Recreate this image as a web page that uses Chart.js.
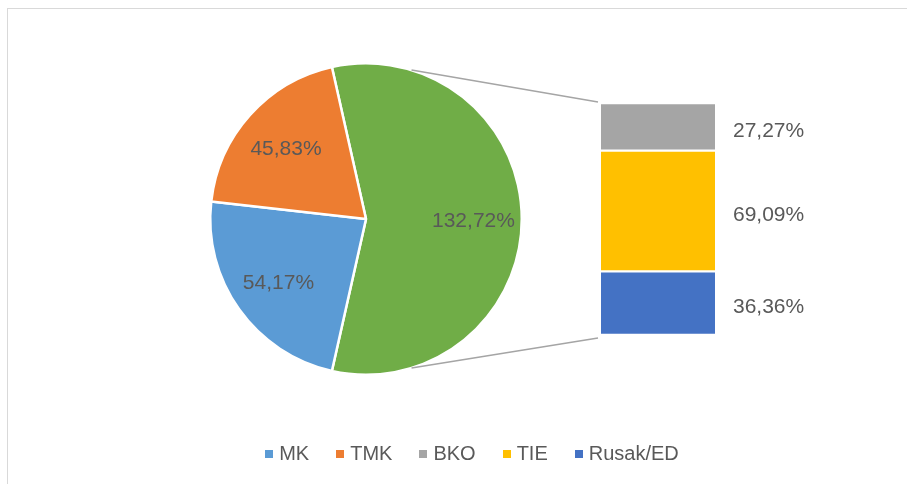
<!DOCTYPE html>
<html>
<head>
<meta charset="utf-8">
<script src="https://cdn.jsdelivr.net/npm/chart.js@4.4.1/dist/chart.umd.min.js"></script>
<style>
  body { margin: 0; background: #fff; }
  #wrap { position: relative; width: 907px; height: 484px; overflow: hidden; }
  #frame { position: absolute; left: 7px; top: 8px; width: 905px; height: 480px; border: 1px solid #d9d9d9; box-sizing: border-box; }
  canvas { position: absolute; left: 0; top: 0; }
  #legend { position: absolute; left: 0; top: 442px; width: 944px; display: flex; justify-content: center; gap: 27px;
            font: 20px "Liberation Sans", Arial, sans-serif; color: #595959; }
  #legend span.item { display: flex; align-items: center; }
  #legend i { display: inline-block; width: 8px; height: 8px; margin-right: 6px; }
</style>
</head>
<body>
<div id="wrap">
  <div id="frame"></div>
  <canvas id="pie" width="907" height="484"></canvas>
  <canvas id="bar" width="907" height="484"></canvas>
  <div id="legend"></div>
</div>
<script>
// pie slices (the last one is the sum of the bar)
const pieNames = ["MK", "TMK"];
const pieValues = [54.17, 45.83];
const pieColors = ["#5b9bd5", "#ed7d31"];

// bar of pie, top to bottom
const barNames = ["BKO", "TIE", "Rusak/ED"];
const barValues = [27.27, 69.09, 36.36];
const barColors = ["#a5a5a5", "#ffc000", "#4472c4"];

const otherColor = "#70ad47";
const otherTotal = barValues.reduce((a, b) => a + b, 0);
const total = otherTotal + pieValues.reduce((a, b) => a + b, 0);

const fmt = v => v.toFixed(2).replace(".", ",") + "%";
const labelFont = '21px "Liberation Sans", Arial, sans-serif';

// legend
const legend = document.getElementById("legend");
pieNames.concat(barNames).forEach((n, i) => {
  const c = pieColors.concat(barColors)[i];
  const s = document.createElement("span");
  s.className = "item";
  s.innerHTML = `<i style="background:${c}"></i>${n}`;
  legend.appendChild(s);
});

// labels inside the pie
const pieLabels = {
  id: "pieLabels",
  afterDatasetsDraw(chart) {
    const ctx = chart.ctx;
    const values = chart.data.datasets[0].data;
    ctx.save();
    ctx.font = labelFont;
    ctx.fillStyle = "#595959";
    ctx.textAlign = "center";
    ctx.textBaseline = "middle";
    chart.getDatasetMeta(0).data.forEach((arc, i) => {
      const p = arc.getProps(["x", "y", "startAngle", "endAngle", "outerRadius"]);
      const mid = (p.startAngle + p.endAngle) / 2;
      const r = p.outerRadius * 0.69;
      ctx.fillText(fmt(values[i]), p.x + Math.cos(mid) * r, p.y + Math.sin(mid) * r + 2);
    });
    ctx.restore();
  }
};

// green slice first, centred on the right side
const pieChart = new Chart(document.getElementById("pie"), {
  type: "pie",
  data: {
    labels: ["Other"].concat(pieNames),
    datasets: [{
      data: [otherTotal].concat(pieValues),
      backgroundColor: [otherColor].concat(pieColors),
      borderColor: "#fff",
      borderWidth: 2.5,
      hoverOffset: 0
    }]
  },
  options: {
    responsive: false,
    animation: false,
    events: [],
    rotation: 90 - (otherTotal / total) * 180,
    layout: { padding: { left: 209, right: 384, top: 62, bottom: 108 } },
    plugins: { legend: { display: false }, tooltip: { enabled: false } }
  },
  plugins: [pieLabels]
});

// labels right of the bar + connector lines to the pie
const barExtras = {
  id: "barExtras",
  afterDatasetsDraw(chart) {
    const ctx = chart.ctx;
    ctx.save();
    ctx.font = labelFont;
    ctx.fillStyle = "#595959";
    ctx.textAlign = "left";
    ctx.textBaseline = "middle";
    const right = chart.chartArea.right;
    chart.data.datasets.forEach((ds, di) => {
      const bar = chart.getDatasetMeta(di).data[0];
      ctx.fillText(fmt(ds.data[0]), right + 18, (bar.y + bar.base) / 2 + 4);
    });

    const topBar = chart.getDatasetMeta(chart.data.datasets.length - 1).data[0];
    const botBar = chart.getDatasetMeta(0).data[0];
    const left = topBar.x - topBar.width / 2 - 3;
    const arc = pieChart.getDatasetMeta(0).data[0];
    const a = 73 * Math.PI / 180;
    ctx.strokeStyle = "#a5a5a5";
    ctx.lineWidth = 1.5;
    ctx.beginPath();
    ctx.moveTo(arc.x + Math.cos(-a) * arc.outerRadius, arc.y + Math.sin(-a) * arc.outerRadius);
    ctx.lineTo(left, topBar.y - 1);
    ctx.moveTo(arc.x + Math.cos(a) * arc.outerRadius, arc.y + Math.sin(a) * arc.outerRadius);
    ctx.lineTo(left, botBar.base + 3);
    ctx.stroke();
    ctx.restore();
  }
};

// stacked from the bottom: Rusak/ED, TIE, BKO
const order = [2, 1, 0];
new Chart(document.getElementById("bar"), {
  type: "bar",
  data: {
    labels: ["Other"],
    datasets: order.map(i => ({
      label: barNames[i],
      data: [barValues[i]],
      backgroundColor: barColors[i],
      borderColor: "#fff",
      borderWidth: { top: 1.5, bottom: 1.5, left: 0, right: 0 },
      borderSkipped: false,
      barPercentage: 1,
      categoryPercentage: 1
    }))
  },
  options: {
    responsive: false,
    animation: false,
    events: [],
    layout: { padding: { left: 601, right: 192, top: 103, bottom: 149 } },
    scales: {
      x: { stacked: true, display: false },
      y: { stacked: true, display: false, min: 0, max: otherTotal }
    },
    plugins: { legend: { display: false }, tooltip: { enabled: false } }
  },
  plugins: [barExtras]
});
</script>
</body>
</html>
